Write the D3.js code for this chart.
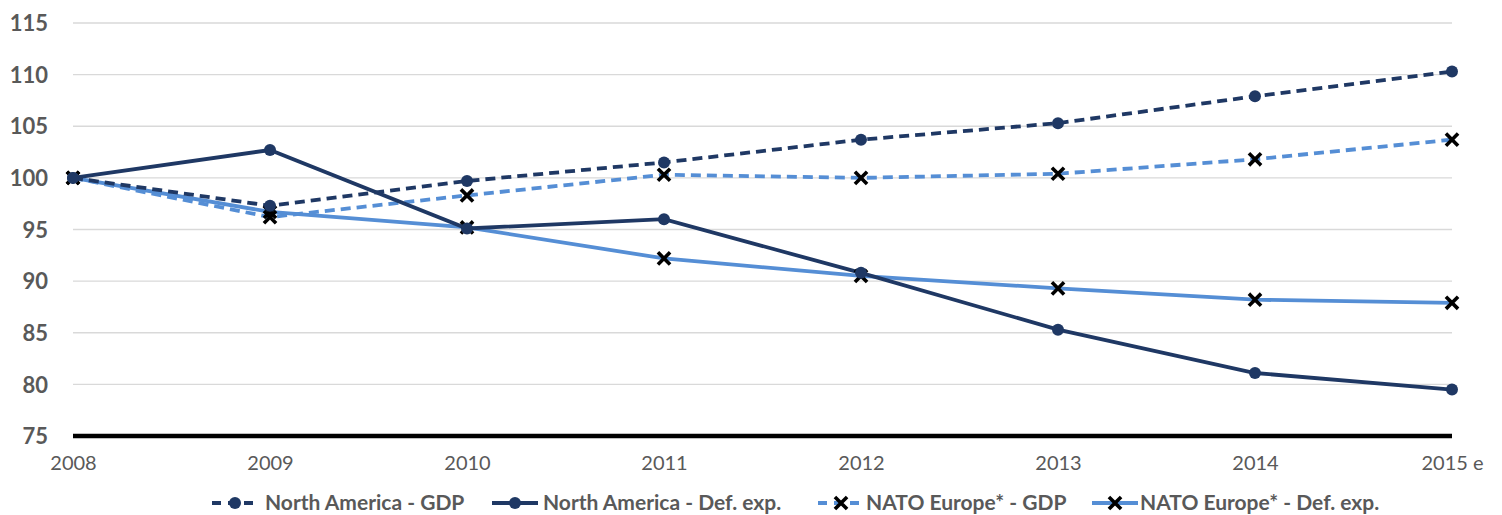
<!DOCTYPE html>
<html><head><meta charset="utf-8">
<script src="https://cdn.jsdelivr.net/npm/d3@7/dist/d3.min.js"></script>
<style>body{margin:0;background:#fff}svg{display:block}text{font-family:Lato,"Open Sans",sans-serif}</style>
</head><body>
<svg id="c" width="1502" height="515"></svg>
<script>
const years = ["2008","2009","2010","2011","2012","2013","2014","2015 e"];
const yTicks = [75,80,85,90,95,100,105,110,115];
const naGDP = [100,97.3,99.7,101.5,103.7,105.3,107.9,110.3];
const naDef = [100,102.7,95.1,96.0,90.8,85.3,81.1,79.5];
const euGDP = [100,96.2,98.3,100.3,100.0,100.4,101.8,103.7];
const euDef = [100,96.7,95.2,92.2,90.5,89.3,88.2,87.9];
const seriesNames = ["North America - GDP","North America - Def. exp.","NATO Europe* - GDP","NATO Europe* - Def. exp."];

const dark = "#1f3864", light = "#558ed5";
const series = [
  {name:seriesNames[0], values:naGDP, color:dark, dash:"10,6", marker:"circle"},
  {name:seriesNames[1], values:naDef, color:dark, dash:null, marker:"circle"},
  {name:seriesNames[2], values:euGDP, color:light, dash:"10,6", marker:"x"},
  {name:seriesNames[3], values:euDef, color:light, dash:null, marker:"x"}
];

const svg = d3.select("#c");
const x = d3.scalePoint().domain(years).range([73,1452]);
const y = d3.scaleLinear().domain([75,115]).range([436,23]);

svg.append("g").selectAll("line").data(yTicks.filter(t=>t>75)).join("line")
  .attr("x1",73).attr("x2",1452).attr("y1",d=>y(d)).attr("y2",d=>y(d))
  .attr("stroke","#d9d9d9").attr("stroke-width",1.3);

const yAxis = d3.axisLeft(y).tickValues(yTicks).tickSize(0).tickPadding(0);
const ya = svg.append("g").attr("transform","translate(48,0)").call(yAxis);
ya.select(".domain").remove();
ya.selectAll("text").attr("font-size",22).attr("font-weight","bold").attr("fill","#595959").attr("dy","0.35em");

const xAxis = d3.axisBottom(x).tickSize(0).tickPadding(0);
const xa = svg.append("g").attr("transform","translate(0,456)").call(xAxis);
xa.select(".domain").remove();
xa.selectAll("text").attr("font-size",20).attr("fill","#595959").attr("dy","0.71em");

svg.append("line").attr("x1",73).attr("x2",1452).attr("y1",y(75)).attr("y2",y(75))
  .attr("stroke","#000").attr("stroke-width",4.5);

const line = d3.line().x((d,i)=>x(years[i])).y(d=>y(d));
const order = [3,2,1,0];
order.forEach(k=>{
  const s = series[k];
  svg.append("path").attr("d",line(s.values)).attr("fill","none")
    .attr("stroke",s.color).attr("stroke-width",3.8)
    .attr("stroke-dasharray",s.dash);
});
function drawMarker(g, type, cx, cy){
  if(type==="circle"){
    g.append("circle").attr("cx",cx).attr("cy",cy).attr("r",6).attr("fill",dark);
  } else {
    const r=4.8;
    g.append("path").attr("d",`M${cx-r},${cy-r}L${cx+r},${cy+r}M${cx-r},${cy+r}L${cx+r},${cy-r}`)
      .attr("stroke","#000").attr("stroke-width",3.6).attr("stroke-linecap","square");
  }
}
order.forEach(k=>{
  const s = series[k];
  const g = svg.append("g");
  s.values.forEach((v,i)=>drawMarker(g,s.marker,x(years[i]),y(v)));
});

const legX = [212, 492, 818, 1092];
const txtX = [265, 543, 866, 1140];
const lg = svg.append("g");
series.forEach((s,i)=>{
  const lx = legX[i], ly = 503;
  lg.append("line").attr("x1",lx).attr("x2",lx+46).attr("y1",ly).attr("y2",ly)
    .attr("stroke",s.color).attr("stroke-width",3.8).attr("stroke-dasharray",s.dash?"9,7":null);
  drawMarker(lg,s.marker,lx+23,ly);
  lg.append("text").attr("x",txtX[i]).attr("y",ly).attr("dy","0.35em")
    .attr("font-size",21).attr("font-weight","bold").attr("fill","#595959").text(s.name);
});
</script>
</body></html>
